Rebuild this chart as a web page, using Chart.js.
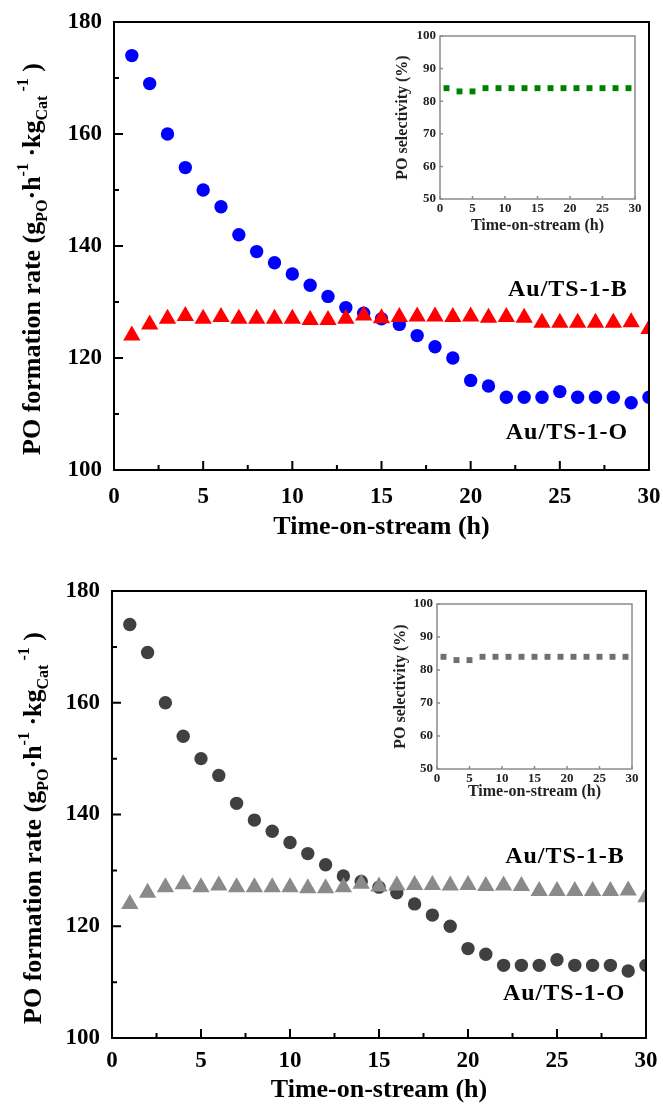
<!DOCTYPE html>
<html>
<head>
<meta charset="utf-8">
<title>PO formation rate</title>
<script src="https://cdn.jsdelivr.net/npm/chart.js@4.4.1/dist/chart.umd.min.js"></script>
<style>
  body { margin: 0; background: #fff; }
  #page { position: relative; width: 663px; height: 1109px; }
  #page canvas { position: absolute; left: 0; top: 0; }
</style>
</head>
<body>
<div id="page">
  <canvas id="rateTop" width="663" height="1109"></canvas>
  <canvas id="rateBottom" width="663" height="1109"></canvas>
  <canvas id="selTop" width="663" height="1109"></canvas>
  <canvas id="selBottom" width="663" height="1109"></canvas>
</div>
<script>
const W = 663, H = 1109;
const SERIF = '"Liberation Serif", "Times New Roman", serif';

// time-on-stream (h)
const hours = [1, 2, 3, 4, 5, 6, 7, 8, 9, 10, 11, 12, 13, 14, 15,
               16, 17, 18, 19, 20, 21, 22, 23, 24, 25, 26, 27, 28, 29, 30];
// PO formation rate, g_PO h^-1 kg_Cat^-1
const rateO = [174, 169, 160, 154, 150, 147, 142, 139, 137, 135, 133, 131, 129, 128, 127,
               126, 124, 122, 120, 116, 115, 113, 113, 113, 114, 113, 113, 113, 112, 113];
const rateB = [124, 126, 127, 127.5, 127, 127.3, 127, 127, 127, 127, 126.8, 126.8, 127, 127.6, 127.1,
               127.3, 127.4, 127.4, 127.3, 127.4, 127.2, 127.3, 127.2, 126.3, 126.3, 126.3, 126.3, 126.3, 126.4, 125.2];
// PO selectivity (%)
const selHours = [1, 3, 5, 7, 9, 11, 13, 15, 17, 19, 21, 23, 25, 27, 29];
const selectivity = [84, 83, 83, 84, 84, 84, 84, 84, 84, 84, 84, 84, 84, 84, 84];

const timeTicks = [0, 5, 10, 15, 20, 25, 30];
const rateTicks = [100, 120, 140, 160, 180];
const selTicks = [50, 60, 70, 80, 90, 100];
const sampleB = 'Au/TS-1-B';
const sampleO = 'Au/TS-1-O';

function points(xs, ys) {
  return xs.map((x, i) => ({ x: x, y: ys[i] }));
}

function drawRich(ctx, r) {
  ctx.save();
  ctx.translate(r.x, r.y);
  ctx.rotate(-Math.PI / 2);
  ctx.textAlign = 'left';
  ctx.textBaseline = 'alphabetic';
  const widths = r.parts.map(p => { ctx.font = p.font; return ctx.measureText(p.text).width; });
  let pos = -widths.reduce((s, w) => s + w, 0) / 2;
  r.parts.forEach((p, i) => {
    ctx.font = p.font;
    ctx.fillText(p.text, pos, p.dy);
    pos += widths[i];
  });
  ctx.restore();
}

// box round the plot area, with inward ticks on the bottom and left axes
const framePlugin = {
  id: 'frame',
  afterDatasetsDraw(chart, args, o) {
    const ctx = chart.ctx, a = chart.chartArea;
    const xs = chart.scales.x, ys = chart.scales.y;
    ctx.save();
    ctx.strokeStyle = o.color;
    ctx.lineWidth = o.lineWidth;
    ctx.beginPath();
    const tickX = (v, len) => {
      const px = xs.getPixelForValue(v);
      ctx.moveTo(px, a.bottom);
      ctx.lineTo(px, a.bottom - len);
    };
    const tickY = (v, len) => {
      const py = ys.getPixelForValue(v);
      ctx.moveTo(a.left, py);
      ctx.lineTo(a.left + len, py);
    };
    xs.ticks.forEach((t, i) => {
      tickX(t.value, o.major);
      if (o.minor && i < xs.ticks.length - 1) tickX((t.value + xs.ticks[i + 1].value) / 2, o.minor);
    });
    ys.ticks.forEach((t, i) => {
      tickY(t.value, o.major);
      if (o.minor && i < ys.ticks.length - 1) tickY((t.value + ys.ticks[i + 1].value) / 2, o.minor);
    });
    ctx.stroke();
    ctx.strokeRect(a.left, a.top, a.right - a.left, a.bottom - a.top);
    ctx.restore();
  }
};

// axis titles and sample names
const notesPlugin = {
  id: 'notes',
  afterDraw(chart, args, o) {
    const ctx = chart.ctx;
    ctx.save();
    ctx.fillStyle = o.color || '#000';
    ctx.textAlign = 'center';
    ctx.textBaseline = 'middle';
    (o.texts || []).forEach(t => {
      let x = t.x, y = t.y;
      if (t.vx !== undefined) {
        x = chart.scales.x.getPixelForValue(t.vx);
        y = chart.scales.y.getPixelForValue(t.vy);
      }
      ctx.save();
      ctx.font = t.font;
      ctx.letterSpacing = t.spacing || '0px';
      ctx.translate(x, y);
      if (t.rotate) ctx.rotate(-Math.PI / 2);
      ctx.fillText(t.text, 0, 0);
      ctx.restore();
    });
    if (o.rich) drawRich(ctx, o.rich);
    ctx.restore();
  }
};

function axis(ticksList, min, max, font, color, pad, fit) {
  return {
    type: 'linear',
    min: min,
    max: max,
    afterBuildTicks: s => { s.ticks = ticksList.map(v => ({ value: v })); },
    afterFit: fit,
    grid: { display: false, drawTicks: false },
    border: { display: false },
    ticks: { font: font, color: color, padding: pad, autoSkip: false, maxRotation: 0 }
  };
}

function rateChart(id, p) {
  const a = p.area;
  const big = 'bold 26px ' + SERIF, small = 'bold 16px ' + SERIF;
  const tickFont = { family: SERIF, size: 23, weight: 'bold' };
  return new Chart(document.getElementById(id), {
    type: 'scatter',
    data: {
      datasets: [
        { data: points(hours, rateB), pointStyle: 'triangle', pointRadius: 10,
          backgroundColor: p.colorB, borderWidth: 0, clip: 0 },
        { data: points(hours, rateO), pointStyle: 'circle', pointRadius: 6.7,
          backgroundColor: p.colorO, borderWidth: 0, clip: 0 }
      ]
    },
    options: {
      responsive: false,
      animation: false,
      events: [],
      layout: { padding: { left: 0, right: W - a.r, top: a.t, bottom: 0 } },
      scales: {
        x: axis(timeTicks, 0, 30, tickFont, '#000', p.xPad,
          s => { s.height = H - a.b; s.paddingLeft = 0; s.paddingRight = 0; }),
        y: axis(rateTicks, 100, 180, tickFont, '#000', 12,
          s => { s.width = a.l; s.paddingTop = 0; s.paddingBottom = 0; })
      },
      plugins: {
        legend: { display: false },
        tooltip: { enabled: false },
        frame: { color: '#000', lineWidth: 2, major: 9, minor: 5 },
        notes: {
          texts: [
            { text: 'Time-on-stream (h)', font: big, x: (a.l + a.r) / 2, y: a.b + p.xTitleGap },
            { text: sampleB, font: 'bold 24px ' + SERIF, spacing: '1px', vx: 25.45, vy: p.labelB },
            { text: sampleO, font: 'bold 24px ' + SERIF, spacing: '1px', vx: 25.4, vy: p.labelO }
          ],
          rich: {
            x: p.yTitle.x, y: p.yTitle.y,
            parts: [
              { text: 'PO formation rate (g', font: big, dy: 0 },
              { text: 'PO', font: small, dy: 7 },
              { text: '\u00b7h', font: big, dy: 0 },
              { text: '-1', font: small, dy: -12 },
              { text: ' \u00b7kg', font: big, dy: 0 },
              { text: 'Cat', font: small, dy: 7 },
              { text: ' -1', font: small, dy: -12 },
              { text: ' )', font: big, dy: 0 }
            ]
          }
        }
      }
    },
    plugins: [framePlugin, notesPlugin]
  });
}

function selChart(id, p) {
  const a = p.area;
  const tickFont = { family: SERIF, size: 13, weight: 'bold' };
  const titleFont = 'bold 16px ' + SERIF;
  return new Chart(document.getElementById(id), {
    type: 'scatter',
    data: {
      datasets: [
        { data: points(selHours, selectivity), pointStyle: 'rect', pointRadius: 4.2,
          backgroundColor: p.color, borderWidth: 0 }
      ]
    },
    options: {
      responsive: false,
      animation: false,
      events: [],
      layout: { padding: { left: 0, right: W - a.r, top: a.t, bottom: 0 } },
      scales: {
        x: axis(timeTicks, 0, 30, tickFont, '#222', 2,
          s => { s.height = H - a.b; s.paddingLeft = 0; s.paddingRight = 0; }),
        y: axis(selTicks, 50, 100, tickFont, '#222', 4,
          s => { s.width = a.l; s.paddingTop = 0; s.paddingBottom = 0; })
      },
      plugins: {
        legend: { display: false },
        tooltip: { enabled: false },
        frame: { color: '#8c8c8c', lineWidth: 1.5, major: 3, minor: 0 },
        notes: {
          color: '#222',
          texts: [
            { text: 'Time-on-stream (h)', font: titleFont, x: (a.l + a.r) / 2, y: a.b + p.xTitleGap },
            { text: 'PO selectivity (%)', font: titleFont, rotate: true, x: p.yTitleX, y: (a.t + a.b) / 2 }
          ]
        }
      }
    },
    plugins: [framePlugin, notesPlugin]
  });
}

rateChart('rateTop', {
  area: { l: 114, r: 649, t: 22, b: 470 },
  colorO: '#0000ff', colorB: '#ff0000',
  xPad: 13, xTitleGap: 57,
  labelB: 132.2, labelO: 106.6,
  yTitle: { x: 40, y: 259 }
});
rateChart('rateBottom', {
  area: { l: 112, r: 646, t: 591, b: 1038 },
  colorO: '#404040', colorB: '#8a8a8a',
  xPad: 9, xTitleGap: 52,
  labelB: 132.4, labelO: 108,
  yTitle: { x: 41, y: 828 }
});
selChart('selTop', {
  area: { l: 440, r: 635, t: 36, b: 199 },
  color: '#008000', xTitleGap: 27, yTitleX: 403
});
selChart('selBottom', {
  area: { l: 437, r: 632, t: 604, b: 769 },
  color: '#707070', xTitleGap: 23, yTitleX: 401
});
</script>
</body>
</html>
